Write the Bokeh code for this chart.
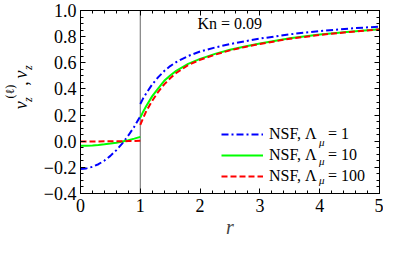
from bokeh.plotting import figure
from bokeh.layouts import row
from bokeh.models import (Span, Label, Legend, LegendItem, LinearAxis, FixedTicker,
                          Range1d, CustomJSTickFormatter)
from bokeh.core.properties import value
from bokeh.embed import file_html
from bokeh.resources import INLINE

# ---------------- data ----------------
r_in = [0.0, 0.1, 0.2, 0.3, 0.4, 0.5, 0.6, 0.7, 0.8, 0.9, 1.0]
blue_in = [-0.212, -0.208, -0.196, -0.176, -0.148, -0.112, -0.068, -0.016, 0.044, 0.112, 0.190]
green_in = [-0.035, -0.034, -0.032, -0.029, -0.024, -0.018, -0.011, -0.002, 0.008, 0.020, 0.033]
red_in = [-0.002, -0.002, -0.002, -0.002, -0.001, -0.001, 0.000, 0.000, 0.001, 0.002, 0.003]

r_out = [1.0, 1.05, 1.1, 1.2, 1.3, 1.4, 1.5, 1.6, 1.8, 2.0, 2.25, 2.5, 2.75, 3.0, 3.5, 4.0, 4.5, 5.0]
blue_out = [0.285, 0.330, 0.367, 0.435, 0.490, 0.537, 0.575, 0.605, 0.652, 0.686, 0.717, 0.743,
            0.765, 0.785, 0.818, 0.843, 0.862, 0.877]
green_out = [0.180, 0.228, 0.270, 0.345, 0.405, 0.462, 0.503, 0.538, 0.592, 0.630, 0.668, 0.700,
             0.725, 0.748, 0.787, 0.816, 0.838, 0.857]
red_out = [0.125, 0.180, 0.230, 0.310, 0.378, 0.435, 0.482, 0.522, 0.582, 0.623, 0.662, 0.695,
           0.721, 0.744, 0.784, 0.813, 0.836, 0.855]

x_ticks = [0, 1, 2, 3, 4, 5]
y_ticks = [-0.4, -0.2, 0.0, 0.2, 0.4, 0.6, 0.8, 1.0]
legend_values = ["1", "10", "100"]
kn_text = "Kn = 0.09"

FONT = "Liberation Serif"
A = 1.5707963267948966

# ---------------- side figure holding the rotated y-axis title ----------------
SW = 40
side = figure(width=SW, height=241, output_backend="svg", toolbar_location=None,
              x_range=Range1d(0, SW), y_range=Range1d(0, 241),
              x_axis_type=None, y_axis_type=None,
              min_border_left=0, min_border_right=0, min_border_top=0, min_border_bottom=0)
side.grid.visible = False
side.outline_line_color = None

def rtext(xs, ys, texts, size, italic):
    side.text(x=xs, y=ys, text=texts, angle=A, text_font=value(FONT),
              text_font_size=size, text_font_style="italic" if italic else "normal",
              text_color="black", text_align="left", text_baseline="alphabetic")

rtext([20.5, 20.5], [111, 151.5], ["v", "v"], "18px", True)
rtext([20.5], [142], [","], "18px", False)
rtext([27, 27], [120.5, 162.5], ["z", "z"], "12px", True)
rtext([9.5], [125], ["(\u2113)"], "12px", False)

# ---------------- main figure ----------------
p = figure(width=383 - SW, height=241, output_backend="svg", toolbar_location=None,
           x_range=Range1d(0, 5), y_range=Range1d(-0.4, 1.0),
           min_border_left=78 - SW, min_border_right=4, min_border_top=10, min_border_bottom=48,
           x_axis_label="r")
p.grid.visible = False
p.outline_line_color = "black"
p.outline_line_width = 1

x_minor = [round(i * 0.2, 2) for i in range(26)]
y_minor = [round(-0.4 + i * 0.05, 2) for i in range(29)]
xt = FixedTicker(ticks=x_ticks, minor_ticks=x_minor)
yt = FixedTicker(ticks=y_ticks, minor_ticks=y_minor)
yfmt = CustomJSTickFormatter(code="return (tick < -1e-9 ? '\u2212' : '') + Math.abs(tick).toFixed(1);")
blank = CustomJSTickFormatter(code="return '';")

def style_axis(ax, labels=True):
    ax.axis_line_color = "black"
    ax.major_tick_line_color = "black"
    ax.minor_tick_line_color = "black"
    ax.major_tick_in = 5
    ax.major_tick_out = 0
    ax.minor_tick_in = 3
    ax.minor_tick_out = 0
    ax.major_label_text_font = FONT
    ax.major_label_text_color = "black"
    if labels:
        ax.major_label_text_font_size = "18px"
    else:
        ax.formatter = blank
        ax.major_label_text_font_size = "0px"
        ax.major_label_standoff = 0

xa = p.xaxis[0]
xa.ticker = xt
style_axis(xa)
xa.major_label_standoff = 5
xa.axis_label_text_font = FONT
xa.axis_label_text_font_style = "italic"
xa.axis_label_text_font_size = "20px"
xa.axis_label_standoff = 1

ya = p.yaxis[0]
ya.ticker = yt
ya.formatter = yfmt
style_axis(ya)
ya.major_label_standoff = 4

top = LinearAxis(ticker=xt)
style_axis(top, labels=False)
p.add_layout(top, "above")
right = LinearAxis(ticker=yt)
style_axis(right, labels=False)
p.add_layout(right, "right")

p.add_layout(Span(location=1, dimension="height", line_color="#808080", line_width=1.2,
                  level="underlay"))

# ---------------- curves ----------------
BLUE, GREEN, RED = "#0000ff", "#00ff00", "#ff0000"
b1 = p.line(r_in, blue_in, line_color=BLUE, line_width=2, line_dash="7 3 2 3")
b2 = p.line(r_out, blue_out, line_color=BLUE, line_width=2, line_dash="7 3 2 3")
g1 = p.line(r_in, green_in, line_color=GREEN, line_width=2)
g2 = p.line(r_out, green_out, line_color=GREEN, line_width=2)
d1 = p.line(r_in, red_in, line_color=RED, line_width=2, line_dash="6 3")
d2 = p.line(r_out, red_out, line_color=RED, line_width=2, line_dash="6 3")

# ---------------- legend: three aligned legends (text, subscript, value) ----------------
def make_legend(labels, loc, glyph_w, standoff, size, italic=False):
    lg = Legend(items=[LegendItem(label=t, renderers=[r]) for t, r in zip(labels, [b2, g2, d2])],
                location=loc, glyph_width=glyph_w, glyph_height=16, label_height=16,
                spacing=3, padding=0, margin=0, label_standoff=standoff,
                border_line_alpha=0, background_fill_alpha=0,
                label_text_font=FONT, label_text_font_size=size,
                label_text_font_style="italic" if italic else "normal",
                label_text_color="black")
    p.add_layout(lg)

make_legend(["NSF, \u039b"] * 3, (141, 8), 42, 6, "16px")
make_legend(["\u03bc"] * 3, (239, 5), 0, 0, "11px", italic=True)
make_legend(["= " + v for v in legend_values], (248, 8), 0, 0, "16px")

p.add_layout(Label(x=117, y=170, x_units="screen", y_units="screen", text=kn_text,
                   text_font=FONT, text_font_size="16px", text_color="black",
                   text_align="left", text_baseline="alphabetic"))

layout = row(side, p)
open("out.html", "w").write(file_html(layout, INLINE))
